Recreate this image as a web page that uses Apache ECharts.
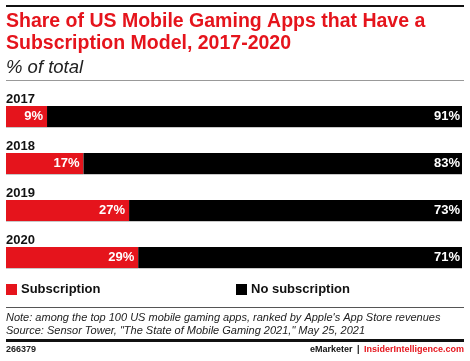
<!DOCTYPE html>
<html><head><meta charset="utf-8">
<script src="https://cdn.jsdelivr.net/npm/echarts@6/dist/echarts.min.js"></script>
<style>html,body{margin:0;padding:0;background:#fff}#c{width:470px;height:361px}</style>
</head><body><div id="c"></div>
<script>
const years = ['2017', '2018', '2019', '2020'];
const subscription = [9, 17, 27, 29];
const noSubscription = [91, 83, 73, 71];
const seriesNames = ['Subscription', 'No subscription'];

const RED = '#e5141c';
const FONT = 'Liberation Sans, Arial, sans-serif';
const chart = echarts.init(document.getElementById('c'));
const barLabel = (d) => ({
  show: true, position: 'insideRight', distance: d, color: '#fff',
  fontFamily: FONT, fontWeight: 'bold', fontSize: 13,
  formatter: p => p.value + '%'
});
const legendText = { fontFamily: FONT, fontSize: 13, fontWeight: 'bold', color: '#111', padding: [0,0,0,-1] };
chart.setOption({
  animation: false,
  title: [
    { text: 'Share of US Mobile Gaming Apps that Have a\nSubscription Model, 2017-2020', left: 6, top: 11, padding: 0,
      textStyle: { color: RED, fontFamily: FONT, fontWeight: 'bold', fontSize: 19.5, lineHeight: 22 } },
    { text: '% of total', left: 6, top: 58, padding: 0,
      textStyle: { color: '#222', fontFamily: FONT, fontStyle: 'italic', fontWeight: 'normal', fontSize: 18.5 } }
  ],
  legend: [
    { data: [seriesNames[0]], left: 6, top: 283, padding: 0, itemWidth: 11, itemHeight: 11, itemGap: 6, icon: 'rect', textStyle: legendText },
    { data: [seriesNames[1]], left: 236, top: 283, padding: 0, itemWidth: 11, itemHeight: 11, itemGap: 6, icon: 'rect', textStyle: legendText }
  ],
  grid: { left: 6, right: 8, top: 93, height: 188 },
  xAxis: { type: 'value', min: 0, max: 100, show: false },
  yAxis: {
    type: 'category', data: years, inverse: true,
    axisLine: { show: false }, axisTick: { show: false },
    axisLabel: { inside: true, margin: 0, verticalAlign: 'bottom', padding: [0, 0, 11, 0],
      fontFamily: FONT, fontWeight: 'bold', fontSize: 13, color: '#111' }
  },
  series: [
    { name: seriesNames[0], type: 'bar', stack: 's', data: subscription, barWidth: 21,
      itemStyle: { color: RED, shadowColor: '#c8c8c8', shadowOffsetY: 1, shadowBlur: 0 }, label: barLabel(4) },
    { name: seriesNames[1], type: 'bar', stack: 's', data: noSubscription, barWidth: 21,
      itemStyle: { color: '#000', shadowColor: '#c8c8c8', shadowOffsetY: 1, shadowBlur: 0 }, label: barLabel(2) }
  ],
  graphic: [
    { type: 'rect', shape: { x: 6, y: 5, width: 458, height: 2 }, style: { fill: '#111' } },
    { type: 'rect', shape: { x: 6, y: 80, width: 458, height: 1 }, style: { fill: '#999' } },
    { type: 'rect', shape: { x: 6, y: 307, width: 458, height: 1 }, style: { fill: '#555' } },
    { type: 'text', left: 6, top: 311, style: { text: "Note: among the top 100 US mobile gaming apps, ranked by Apple's App Store revenues\nSource: Sensor Tower, \"The State of Mobile Gaming 2021,\" May 25, 2021",
      font: 'italic 11px ' + FONT, fill: '#222', lineHeight: 13 } },
    { type: 'rect', shape: { x: 6, y: 339, width: 458, height: 3 }, style: { fill: '#111' } },
    { type: 'text', left: 6, top: 345, style: { text: '266379', font: 'bold 9px ' + FONT, fill: '#222' } },
    { type: 'text', right: 6, top: 345, style: { text: '{a|eMarketer}{b| | }{c|InsiderIntelligence.com}',
      rich: { a: { font: 'bold 9px ' + FONT, fill: '#111' }, b: { font: 'bold 9px ' + FONT, fill: '#111', padding: [0, 2, 0, 2] }, c: { font: 'bold 9px ' + FONT, fill: RED } } } }
  ]
});
</script></body></html>
